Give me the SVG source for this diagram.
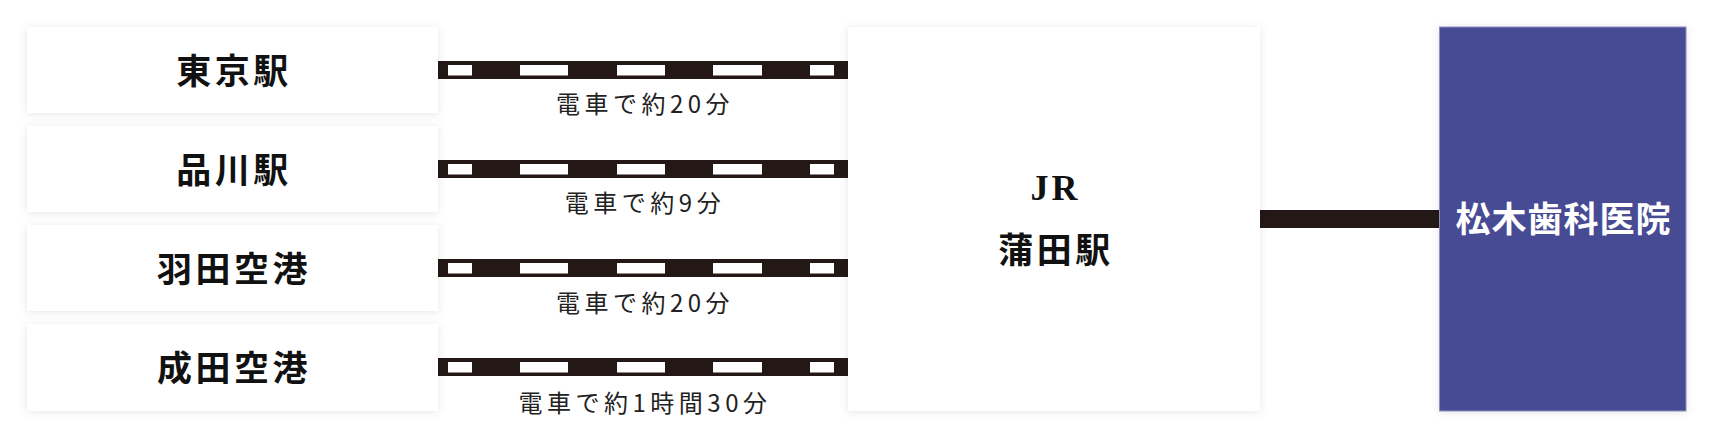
<svg xmlns="http://www.w3.org/2000/svg" xmlns:xlink="http://www.w3.org/1999/xlink" width="1713" height="438" viewBox="0 0 1713 438">
<defs>
<filter id="shadow" x="-10%" y="-10%" width="120%" height="120%">
<feGaussianBlur in="SourceAlpha" stdDeviation="4"/>
<feOffset dx="0" dy="1" result="b"/>
<feFlood flood-color="#000" flood-opacity="0.10"/>
<feComposite in2="b" operator="in"/>
<feMerge><feMergeNode/><feMergeNode in="SourceGraphic"/></feMerge>
</filter>
<g id="track">
<rect x="438" y="0" width="410" height="18" fill="#231815"/>
<rect x="448" y="4" width="24" height="10.5" fill="#fff"/>
<rect x="520" y="4" width="48" height="10.5" fill="#fff"/>
<rect x="617" y="4" width="48" height="10.5" fill="#fff"/>
<rect x="713" y="4" width="49" height="10.5" fill="#fff"/>
<rect x="810" y="4" width="24" height="10.5" fill="#fff"/>
</g>
</defs>
<style>
.box{fill:#fff;filter:url(#shadow)}
.clinic{fill:#474b93;stroke:#8e90bb;stroke-width:1;filter:url(#shadow)}
.name{font-family:"Noto Sans CJK JP","Noto Sans CJK SC",sans-serif;font-weight:700;font-size:35px;fill:#111;text-anchor:middle;letter-spacing:3.5px}
.jr{font-family:"Liberation Serif",serif;font-weight:700;font-size:36px;fill:#111;text-anchor:middle;letter-spacing:3px}
.lbl{font-family:"Noto Sans CJK JP","Noto Sans CJK SC",sans-serif;font-weight:400;font-size:24px;fill:#222;text-anchor:middle;letter-spacing:4.5px}
.cname{font-family:"Noto Sans CJK JP","Noto Sans CJK SC",sans-serif;font-weight:700;font-size:35px;fill:#fff;text-anchor:middle;letter-spacing:1px}
</style>
<rect width="1713" height="438" fill="#fff"/>

<g id="connectors">
<use xlink:href="#track" y="61"/>
<use xlink:href="#track" y="160"/>
<use xlink:href="#track" y="259"/>
<use xlink:href="#track" y="358"/>
<text class="lbl" x="645" y="113">電車で約20分</text>
<text class="lbl" x="645" y="212">電車で約9分</text>
<text class="lbl" x="645" y="312">電車で約20分</text>
<text class="lbl" x="645" y="412">電車で約1時間30分</text>
<rect x="1260" y="210" width="181" height="18" fill="#231815"/>
</g>

<g id="tokyo">
<rect class="box" x="27" y="27" width="411" height="86"/>
<text class="name" x="234" y="84">東京駅</text>
</g>
<g id="shinagawa">
<rect class="box" x="27" y="126" width="411" height="86"/>
<text class="name" x="234" y="183">品川駅</text>
</g>
<g id="haneda">
<rect class="box" x="27" y="225" width="411" height="86"/>
<text class="name" x="234" y="282">羽田空港</text>
</g>
<g id="narita">
<rect class="box" x="27" y="324" width="411" height="87"/>
<text class="name" x="234" y="381">成田空港</text>
</g>
<g id="kamata">
<rect class="box" x="848" y="27" width="412" height="384"/>
<text class="jr" x="1055.5" y="200">JR</text>
<text class="name" x="1056" y="263">蒲田駅</text>
</g>
<g id="clinic">
<rect class="clinic" x="1439.5" y="27" width="246.5" height="384"/>
<text class="cname" x="1563.5" y="232">松木歯科医院</text>
</g>
</svg>
